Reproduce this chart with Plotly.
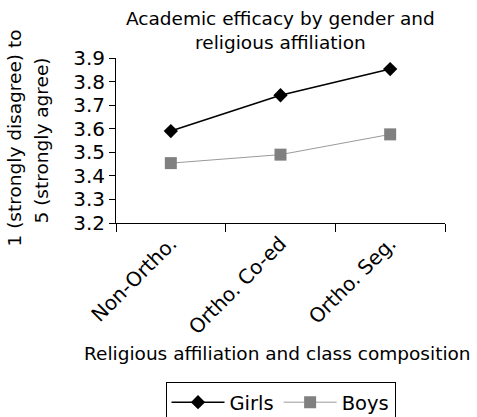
import plotly.graph_objects as go

categories = ["Non-Ortho.", "Ortho. Co-ed", "Ortho. Seg."]
girls = [3.59, 3.742, 3.853]
boys = [3.454, 3.49, 3.576]
y_ticks = [3.2, 3.3, 3.4, 3.5, 3.6, 3.7, 3.8, 3.9]

FONT = "DejaVu Sans"

fig = go.Figure()
fig.add_trace(go.Scatter(
    x=categories, y=girls, name="Girls", mode="lines+markers",
    line=dict(color="black", width=1.6),
    marker=dict(symbol="diamond", size=11, color="black"),
))
fig.add_trace(go.Scatter(
    x=categories, y=boys, name="Boys", mode="lines+markers",
    line=dict(color="#9a9a9a", width=1),
    marker=dict(symbol="square", size=12, color="#808080"),
))

fig.update_layout(
    width=477, height=417,
    margin=dict(l=116, r=32, t=58, b=194),
    paper_bgcolor="white", plot_bgcolor="white",
    font=dict(family=FONT, size=18, color="black"),
    showlegend=True,
    xaxis=dict(
        type="category", range=[-0.5, 2.5], automargin=False,
        tickson="boundaries", ticks="outside", ticklen=8, tickwidth=1, tickcolor="black",
        showline=True, linecolor="black", linewidth=1,
        showgrid=False, zeroline=False, tickangle=-45,
        tickfont=dict(family=FONT, size=20, color="black"),
    ),
    yaxis=dict(
        range=[3.2, 3.9], tickvals=y_ticks, ticktext=[f"{v:.1f}" for v in y_ticks],
        automargin=False,
        ticks="outside", ticklen=6, tickwidth=1, tickcolor="black",
        showline=True, linecolor="black", linewidth=1,
        showgrid=False, zeroline=False,
        tickfont=dict(family=FONT, size=20, color="black"),
    ),
    legend=dict(
        orientation="h", x=0.5, xref="paper", xanchor="center",
        y=1 - 382 / 417, yref="container", yanchor="top",
        bordercolor="black", borderwidth=1, bgcolor="white",
        font=dict(family=FONT, size=19.5, color="black"),
        itemwidth=53,
    ),
    annotations=[
        dict(text="Academic efficacy by gender and<br>religious affiliation",
             xref="paper", yref="paper", x=0.5, y=1, yshift=52,
             xanchor="center", yanchor="top", showarrow=False,
             font=dict(family=FONT, size=18.5, color="black")),
        dict(text="Religious affiliation and class composition",
             xref="paper", yref="paper", x=0.5, y=0, xshift=-3, yshift=-130,
             xanchor="center", yanchor="middle", showarrow=False,
             font=dict(family=FONT, size=18.5, color="black")),
        dict(text="1 (strongly disagree) to",
             xref="paper", yref="paper", x=0, y=0.5, xshift=-102, yshift=2,
             xanchor="center", yanchor="middle", textangle=-90, showarrow=False,
             font=dict(family=FONT, size=18.5, color="black")),
        dict(text="5 (strongly agree)",
             xref="paper", yref="paper", x=0, y=0.5, xshift=-75, yshift=0,
             xanchor="center", yanchor="middle", textangle=-90, showarrow=False,
             font=dict(family=FONT, size=18.5, color="black")),
    ],
)

fig.write_html("out.html")
